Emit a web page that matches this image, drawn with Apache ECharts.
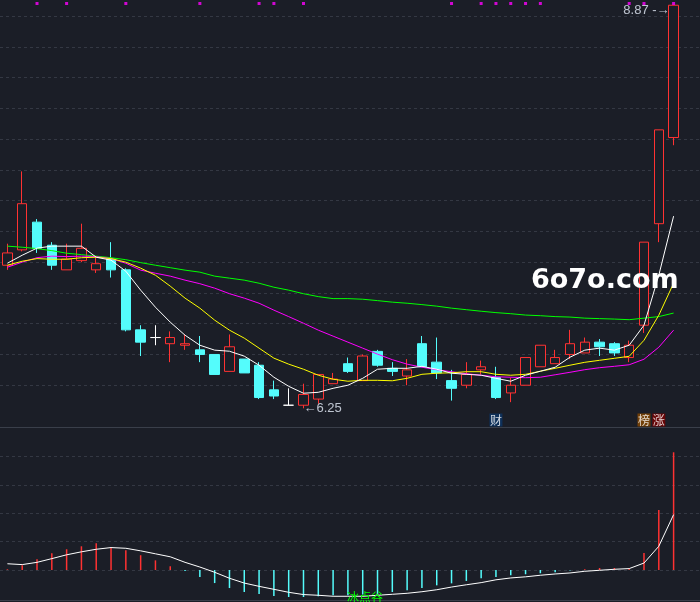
<!DOCTYPE html>
<html><head><meta charset="utf-8">
<script src="https://cdn.jsdelivr.net/npm/echarts@6/dist/echarts.min.js"></script>
<style>html,body{margin:0;padding:0;background:#1b1e27;overflow:hidden;}#c{width:700px;height:602px;}</style>
</head><body><div id="c"></div>
<script>
const categories = ['1','2','3','4','5','6','7','8','9','10','11','12','13','14','15','16','17','18','19','20','21','22','23','24','25','26','27','28','29','30','31','32','33','34','35','36','37','38','39','40','41','42','43','44','45','46'];
// [open, close, low, high]
const ohlc = [
 [7.18,7.26,7.15,7.32],[7.28,7.58,7.27,7.79],[7.46,7.29,7.26,7.48],[7.31,7.18,7.15,7.33],
 [7.15,7.22,7.15,7.32],[7.21,7.29,7.20,7.45],[7.15,7.19,7.13,7.23],[7.22,7.15,7.10,7.33],
 [7.15,6.76,6.75,7.16],[6.76,6.68,6.59,6.79],[6.71,6.71,6.66,6.79],[6.67,6.71,6.55,6.75],
 [6.66,6.67,6.63,6.73],[6.63,6.60,6.55,6.72],[6.60,6.47,6.47,6.60],[6.49,6.65,6.49,6.73],
 [6.57,6.48,6.48,6.57],[6.53,6.32,6.31,6.55],[6.37,6.33,6.31,6.43],[6.27,6.27,6.27,6.38],
 [6.27,6.34,6.25,6.41],[6.31,6.47,6.28,6.47],[6.41,6.44,6.41,6.48],[6.54,6.49,6.48,6.58],
 [6.43,6.59,6.43,6.60],[6.62,6.53,6.52,6.63],[6.51,6.49,6.46,6.55],[6.46,6.50,6.40,6.57],
 [6.67,6.52,6.52,6.72],[6.55,6.48,6.44,6.71],[6.43,6.38,6.30,6.50],[6.40,6.47,6.38,6.55],
 [6.50,6.52,6.47,6.56],[6.45,6.32,6.31,6.52],[6.35,6.40,6.29,6.45],[6.40,6.58,6.40,6.58],
 [6.52,6.66,6.52,6.66],[6.54,6.58,6.54,6.63],[6.60,6.67,6.57,6.76],[6.61,6.68,6.61,6.71],
 [6.68,6.65,6.59,6.70],[6.67,6.61,6.59,6.68],[6.58,6.66,6.55,6.69],[6.79,7.33,6.74,7.33],
 [7.45,8.06,7.33,8.06],[8.01,8.87,7.96,8.87]
];
const ma5 = [7.193,7.245,7.291,7.304,7.304,7.304,7.232,7.213,7.141,7.018,6.907,6.810,6.725,6.660,6.628,6.621,6.589,6.530,6.452,6.393,6.348,6.354,6.380,6.400,6.445,6.504,6.510,6.510,6.523,6.504,6.478,6.471,6.465,6.445,6.426,6.465,6.491,6.517,6.582,6.628,6.641,6.628,6.660,6.790,7.115,7.499];
const ma10 = [7.180,7.206,7.223,7.219,7.219,7.229,7.232,7.223,7.200,7.161,7.115,7.044,6.966,6.901,6.823,6.758,6.706,6.641,6.576,6.537,6.504,6.465,6.439,6.426,6.432,6.432,6.429,6.445,6.471,6.478,6.481,6.488,6.488,6.471,6.465,6.471,6.491,6.510,6.530,6.549,6.562,6.575,6.588,6.692,6.855,7.063];
const ma20 = [7.167,7.200,7.229,7.239,7.236,7.239,7.236,7.223,7.193,7.148,7.128,7.109,7.083,7.060,7.031,6.995,6.966,6.933,6.888,6.846,6.803,6.758,6.719,6.680,6.641,6.602,6.566,6.537,6.517,6.501,6.488,6.475,6.465,6.455,6.452,6.449,6.452,6.468,6.484,6.501,6.514,6.523,6.533,6.569,6.647,6.758];
const ma60 = [7.304,7.297,7.288,7.275,7.258,7.249,7.239,7.229,7.216,7.197,7.180,7.164,7.148,7.135,7.109,7.096,7.083,7.063,7.037,7.018,6.995,6.976,6.963,6.963,6.959,6.950,6.940,6.933,6.924,6.914,6.901,6.891,6.881,6.872,6.865,6.856,6.852,6.846,6.843,6.836,6.833,6.830,6.826,6.836,6.846,6.869];
const macdBar = [0.0005,0.0033,0.0075,0.0118,0.0146,0.0167,0.0188,0.0160,0.0139,0.0104,0.0068,0.0026,-0.0007,-0.0049,-0.0092,-0.0127,-0.0155,-0.0169,-0.0183,-0.0190,-0.0190,-0.0185,-0.0178,-0.0178,-0.0173,-0.0173,-0.0155,-0.0143,-0.0127,-0.0108,-0.0094,-0.0077,-0.0058,-0.0049,-0.0037,-0.0030,-0.0023,-0.0016,-0.0004,0.0005,0.0014,0.0014,0.0008,0.0120,0.0423,0.0829];
const macdLine = [0.0044,0.0038,0.0054,0.0080,0.0107,0.0128,0.0146,0.0158,0.0153,0.0135,0.0114,0.0093,0.0054,0.0021,-0.0016,-0.0058,-0.0092,-0.0115,-0.0136,-0.0157,-0.0173,-0.0178,-0.0185,-0.0185,-0.0185,-0.0178,-0.0171,-0.0164,-0.0153,-0.0139,-0.0120,-0.0104,-0.0089,-0.0069,-0.0056,-0.0048,-0.0037,-0.0028,-0.0021,-0.0009,-0.0002,0.0005,0.0010,0.0049,0.0167,0.0390];
const signalDays = [2,4,8,13,17,18,20,30,32,33,34,35,36,42,43,45];
const badgeDays = [33,43,44];
const badgeTexts = ['财','榜','涨'];
const lowMark = {day:20, value:6.25, text:'←6.25'};
const highMark = {day:45, value:8.87, text:'8.87 -→'};
const priceTicks = {min:6.2, max:8.8, step:0.2};
const macdTicks = {min:-0.02, max:0.1, step:0.02};
const bottomText = '冰点谷';
const watermark = '6o7o.com';

const BG = '#1b1e27', RED = '#ff3232', CYAN = '#54fcfc', GRID = '#343843';
const badgeColors = ['#0b3566','#8a4800','#7a0000'];
const L = 0, W = 681;
const hidden = {show:false};
const catAxis = (gi) => ({type:'category', gridIndex:gi, data:categories, boundaryGap:true, show:false});
const ghostY = (gi, t, maxLine) => ({type:'value', gridIndex:gi, min:t.min, max:t.max, interval:t.step,
  axisLine:hidden, axisTick:hidden, axisLabel:hidden,
  splitLine:{show:true, showMinLine:false, showMaxLine:maxLine, lineStyle:{color:GRID, type:[3,3], width:1}}});
const markLabel = {color:'#e6eefa', fontSize:13, fontFamily:'Liberation Sans'};

const chart = echarts.init(document.getElementById('c'), null, {renderer:'canvas'});
chart.setOption({
  backgroundColor: BG,
  animation: false,
  grid: [
    {left:L, width:W, top:16, height:400},
    {left:L, width:W, top:428, height:170.4},
    {left:0, right:0, top:16, height:400},
    {left:0, right:0, top:428, height:170.4},
    {left:L, width:W, top:0, height:7},
    {left:L, width:W, top:413, height:14}
  ],
  xAxis: [catAxis(0), catAxis(1),
    {type:'value', gridIndex:2, min:0, max:1, show:false},
    {type:'value', gridIndex:3, min:0, max:1, show:false},
    catAxis(4), catAxis(5)],
  yAxis: [
    {type:'value', gridIndex:0, min:priceTicks.min, max:priceTicks.max, show:false},
    {type:'value', gridIndex:1, min:macdTicks.min, max:macdTicks.max, show:false},
    ghostY(2, priceTicks, true),
    ghostY(3, macdTicks, false),
    {type:'value', gridIndex:4, min:0, max:1, show:false},
    {type:'value', gridIndex:5, min:0, max:1, show:false}
  ],
  series: [
    {type:'candlestick', xAxisIndex:0, yAxisIndex:0, data:ohlc, barWidth:10, clip:false, z:2,
      itemStyle:{color:BG, color0:CYAN, borderColor:RED, borderColor0:CYAN, borderColorDoji:'#ffffff', borderWidth:1}},
    {type:'line', xAxisIndex:0, yAxisIndex:0, data:ma60, symbol:'none', z:3, lineStyle:{color:'#00ff00', width:1}},
    {type:'line', xAxisIndex:0, yAxisIndex:0, data:ma20, symbol:'none', z:3, lineStyle:{color:'#ff00ff', width:1}},
    {type:'line', xAxisIndex:0, yAxisIndex:0, data:ma10, symbol:'none', z:3, lineStyle:{color:'#ffff00', width:1}},
    {type:'line', xAxisIndex:0, yAxisIndex:0, data:ma5, symbol:'none', z:4, lineStyle:{color:'#ffffff', width:1}},
    {type:'scatter', xAxisIndex:0, yAxisIndex:0, clip:false, silent:true, symbolSize:0, z:6,
      data:[
        {value:[lowMark.day, lowMark.value], label:{show:true, position:'right', distance:0, formatter:lowMark.text, ...markLabel}},
        {value:[highMark.day, highMark.value], label:{show:true, position:'left', distance:4, offset:[0,5], formatter:highMark.text, ...markLabel}}
      ]},
    {type:'bar', xAxisIndex:1, yAxisIndex:1, data:macdBar, barWidth:1.5,
      itemStyle:{color:(p)=> p.value >= 0 ? RED : CYAN}},
    {type:'line', xAxisIndex:1, yAxisIndex:1, data:macdLine, symbol:'none', z:4, lineStyle:{color:'#ffffff', width:1}},
    {type:'scatter', xAxisIndex:4, yAxisIndex:4, symbol:'rect', symbolSize:3, itemStyle:{color:'#ff00ff'},
      data:signalDays.map(d=>[d,0.5]), silent:true},
    {type:'scatter', xAxisIndex:5, yAxisIndex:5, symbol:'rect', symbolSize:[13,13], silent:true,
      data:badgeDays.map((d,i)=>({value:[d,0.5], itemStyle:{color:badgeColors[i]},
        label:{show:true, position:'inside', formatter:badgeTexts[i], color:'#ffffff', fontSize:12, fontFamily:'Noto Sans CJK SC'}}))}
  ],
  graphic: [
    {type:'rect', shape:{x:0, y:427, width:700, height:1}, style:{fill:'#3a3f4a'}, silent:true},
    {type:'rect', shape:{x:0, y:600, width:700, height:1}, style:{fill:'#3a3f4a'}, silent:true},
    {type:'text', x:531, y:281, style:{text:watermark, fill:'#ffffff', font:'bold 27px "DejaVu Sans"', textVerticalAlign:'middle'}, silent:true, z:10},
    {type:'text', x:347, y:591, style:{text:bottomText, fill:'#00ff00', font:'12px "Noto Sans CJK SC"'}, silent:true, z:10}
  ]
});
</script>
</body></html>
